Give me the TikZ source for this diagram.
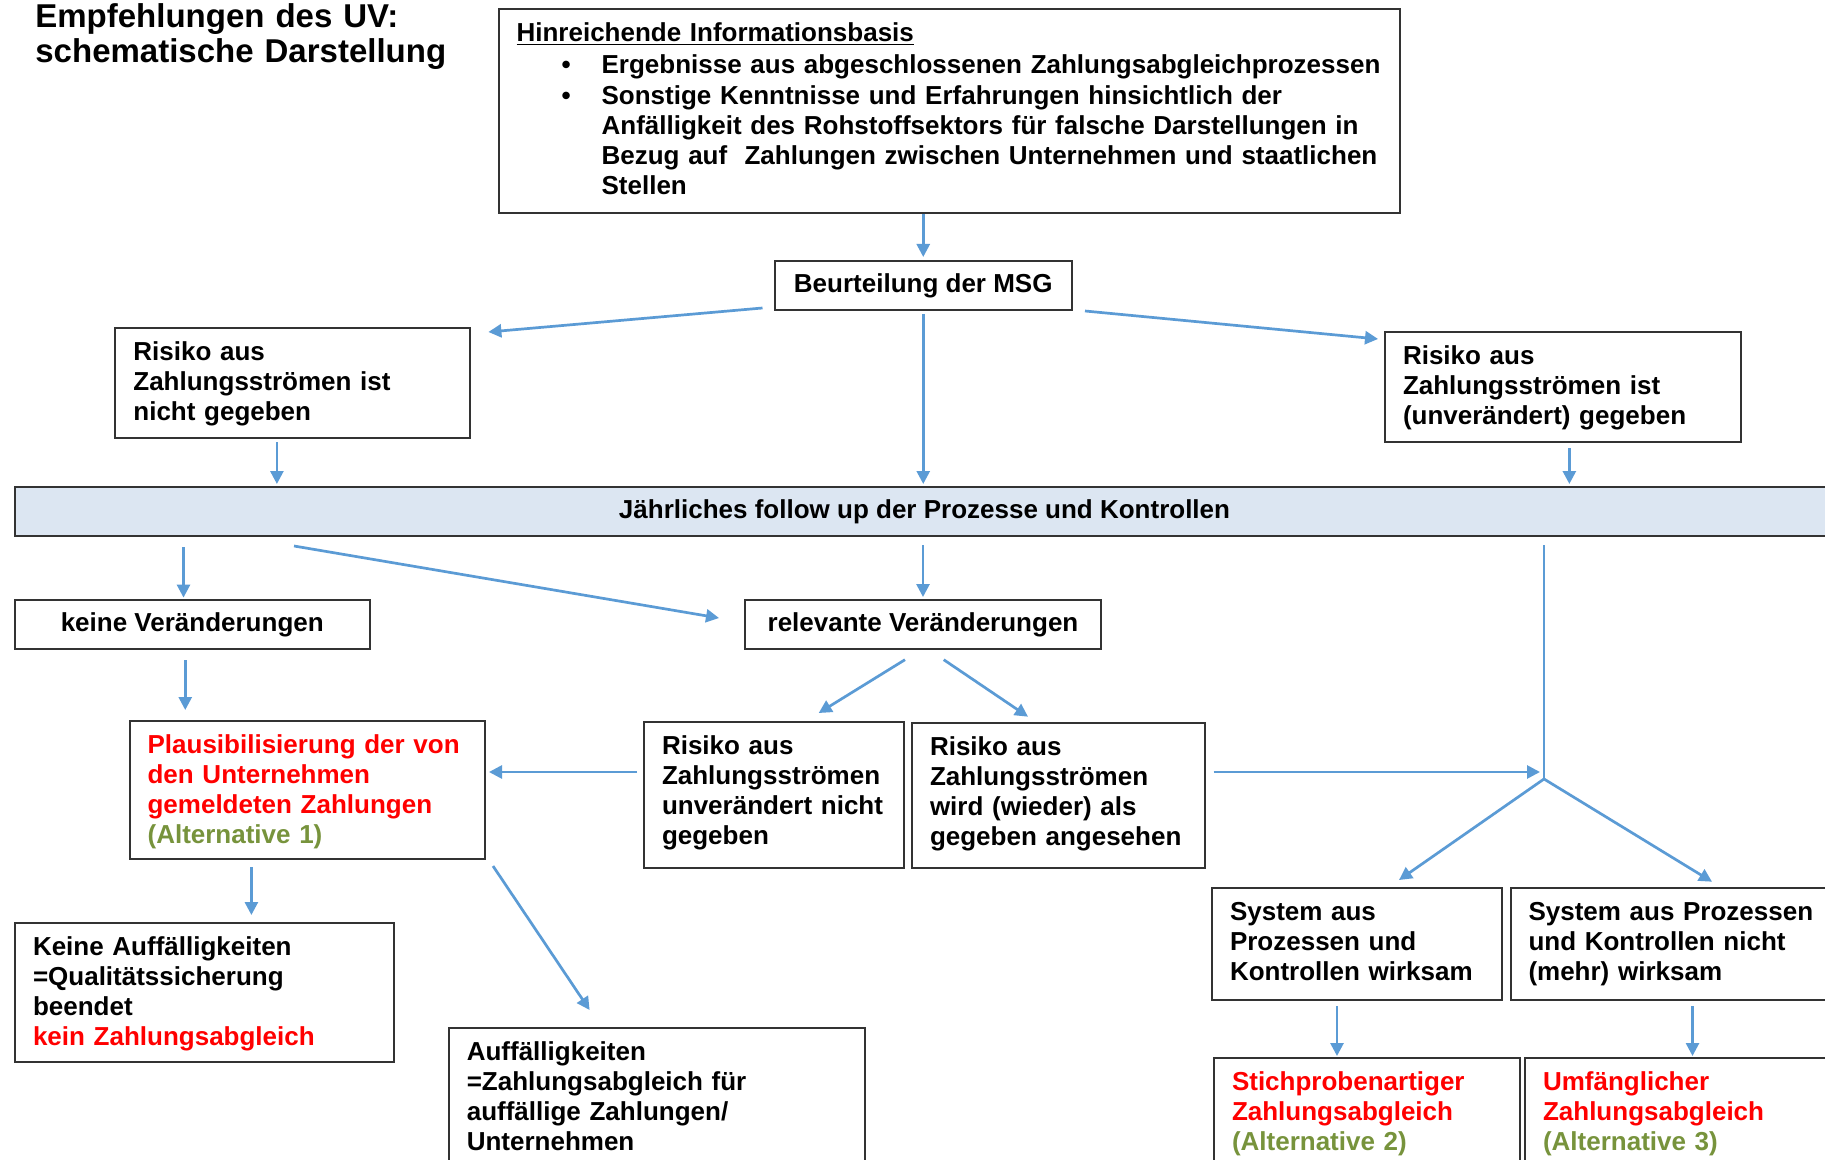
\documentclass[tikz,border=0pt]{standalone}
\usepackage{fontspec}
\setmainfont{Liberation Sans}
\usetikzlibrary{arrows.meta,calc}
\definecolor{arrowblue}{HTML}{5B9BD5}
\definecolor{barfill}{HTML}{DCE6F2}
\definecolor{altgreen}{HTML}{77933C}
\definecolor{hotred}{HTML}{FF0000}
\definecolor{boxline}{HTML}{333333}
\begin{document}
\begin{tikzpicture}[x=0.5pt,y=-0.5pt,
  tbox/.style={draw=boxline, line width=1pt, fill=white, anchor=north west, align=left,
    inner xsep=9pt, inner ysep=0pt, text height=16.25pt, font=\fontsize{13}{15}\selectfont\bfseries},
  cbox/.style={draw=boxline, line width=1pt, fill=white, anchor=north west, inner sep=0pt,
    font=\fontsize{13}{15}\selectfont\bfseries},
  arr/.style={draw=arrowblue, line width=1.35pt, -{Triangle[length=6.5pt,width=6.5pt]}},
  ln/.style={draw=arrowblue, line width=1.35pt}]
\useasboundingbox (0,0) rectangle (1825,1160);
\clip (0,0) rectangle (1825,1160);
\fill[white] (0,0) rectangle (1825,1160);

\node[anchor=base west, text width=215pt, align=left, inner sep=0pt,
  font=\fontsize{16.5}{17.5}\selectfont\bfseries] (title) at (35,28)
  {Empfehlungen des UV:\\schematische Darstellung};

\node[tbox, text width=432.7pt, text depth=85.75pt] (info) at (497.6,8)
 {\underline{Hinreichende Informationsbasis}\\[1pt]
  \hspace*{42.5pt}\llap{\textbullet\hspace{15.5pt}}\mbox{Ergebnisse aus abgeschlossenen Zahlungsabgleichprozessen}\\[0.6pt]
  \hspace*{42.5pt}\llap{\textbullet\hspace{15.5pt}}\mbox{Sonstige Kenntnisse und Erfahrungen hinsichtlich der}\\
  \hspace*{42.5pt}\mbox{Anfälligkeit des Rohstoffsektors für falsche Darstellungen in}\\
  \hspace*{42.5pt}\mbox{Bezug auf~ Zahlungen zwischen Unternehmen und staatlichen}\\
  \hspace*{42.5pt}Stellen};

\node[cbox, minimum width=148.75pt, minimum height=24.5pt] (beurt) at (773.5,260) {Beurteilung der MSG};

\node[tbox, text width=159.5pt, text depth=38.75pt] (risL) at (114.4,327)
 {Risiko aus\\Zahlungsströmen ist\\nicht gegeben};
\node[tbox, text width=159.75pt, text depth=38.75pt] (risR) at (1384,331)
 {Risiko aus\\Zahlungsströmen ist\\(unverändert) gegeben};

\node[cbox, fill=barfill, minimum width=909.5pt, minimum height=24.5pt] (bar) at (14,486)
 {Jährliches follow up der Prozesse und Kontrollen};

\node[cbox, minimum width=177.25pt, minimum height=24.5pt] (keine) at (14,599) {keine Veränderungen};
\node[cbox, minimum width=178pt, minimum height=24.5pt] (relev) at (744,599) {relevante Veränderungen};

\node[tbox, text width=159.7pt, text depth=52.75pt] (plaus) at (128.6,720)
 {\textcolor{hotred}{Plausibilisierung der von}\\\textcolor{hotred}{den Unternehmen}\\
  \textcolor{hotred}{gemeldeten Zahlungen}\\\textcolor{altgreen}{(Alternative 1)}};
\node[tbox, text width=112pt, text depth=56.75pt] (runv) at (643,721)
 {Risiko aus\\Zahlungsströmen\\unverändert nicht\\gegeben};
\node[tbox, text width=128.5pt, text depth=56.4pt] (rwird) at (911,721.7)
 {Risiko aus\\Zahlungsströmen\\wird (wieder) als\\gegeben angesehen};

\node[tbox, text width=171.5pt, text depth=53.25pt] (keinA) at (14,922)
 {Keine Auffälligkeiten\\=Qualitätssicherung\\beendet\\\textcolor{hotred}{kein Zahlungsabgleich}};
\node[tbox, text width=190pt, text depth=53.75pt] (auff) at (447.8,1027)
 {Auffälligkeiten\\=Zahlungsabgleich für\\auffällige Zahlungen/\\Unternehmen};

\node[tbox, text width=127pt, text depth=39.9pt] (sysW) at (1211,886.7)
 {System aus\\Prozessen und\\Kontrollen wirksam};
\node[tbox, text width=147pt, text depth=39.75pt] (sysN) at (1509.5,887)
 {System aus Prozessen\\und Kontrollen nicht\\(mehr) wirksam};

\node[tbox, text width=135pt, text depth=39.75pt] (stich) at (1213,1057)
 {\textcolor{hotred}{Stichprobenartiger}\\\textcolor{hotred}{Zahlungsabgleich}\\\textcolor{altgreen}{(Alternative 2)}};
\node[tbox, text width=142pt, text depth=39.75pt] (umf) at (1524,1057)
 {\textcolor{hotred}{Umfänglicher}\\\textcolor{hotred}{Zahlungsabgleich}\\\textcolor{altgreen}{(Alternative 3)}};

% connectors
\draw[arr, shorten >=1.5pt] (beurt.north |- info.south) -- (beurt.north);
\draw[arr] ($(beurt.south west)+(-11,-3)$) -- ($(risL.north east)+(17,5)$);
\draw[arr] ($(beurt.south east)+(12,0)$) -- ($(risR.north west)+(-6,8)$);
\draw[arr, shorten <=1.5pt, shorten >=1pt] (beurt.south) -- (beurt.south |- bar.north);

\coordinate (pRL) at ($(risL.south)+(-16,3)$);
\draw[arr, shorten >=1pt] (pRL) -- (pRL |- bar.north);
\coordinate (pRR) at ($(risR.south)+(6.6,5)$);
\draw[arr, shorten >=1pt] (pRR) -- (pRR |- bar.north);

\coordinate (pK) at ($(keine.north)+(-8.75,0)$);
\draw[arr, shorten <=5pt, shorten >=0.7pt] (pK |- bar.south) -- (pK);
\draw[arr] ($(bar.south west)+(280,9)$) -- ($(relev.north west)+(-25,19)$);
\draw[arr, shorten <=4pt, shorten >=1pt] (relev.north |- bar.south) -- (relev.north);

\coordinate (pKP) at ($(keine.south)+(-7,0)$);
\draw[arr, shorten <=5pt, shorten >=5pt] (pKP) -- (pKP |- plaus.north);

\draw[arr] ($(relev.south)+(-18,9.7)$) -- ($(runv.north)+(44.7,-8)$);
\draw[arr] ($(relev.south)+(20.7,9.7)$) -- ($(rwird.north)+(-30.5,-5)$);

\coordinate (pUP) at ($(runv.north west)+(-6,51)$);
\draw[arr, shorten >=1.5pt] (pUP) -- (pUP -| plaus.east);

\coordinate (pPK) at ($(plaus.south west)+(122.8,7)$);
\draw[arr, shorten >=3.5pt] (pPK) -- (pPK |- keinA.north);
\draw[arr] ($(plaus.south east)+(7,6)$) -- ($(auff.north west)+(141.8,-17)$);

\coordinate (J) at (1544,779);
\draw[ln] ($(J |- bar.south)+(0,8)$) -- (J);
\coordinate (pWJ) at ($(rwird.north east)+(7.5,50.3)$);
\draw[arr, shorten >=2pt] (pWJ) -- (pWJ -| J);
\draw[arr] (J) -- ($(sysW.north)+(42,-6.7)$);
\draw[arr] (J) -- ($(sysN.north west)+(202.5,-5.3)$);

\coordinate (pSW) at ($(sysW.south)+(-20,5)$);
\draw[arr, shorten >=0.5pt] (pSW) -- (pSW |- stich.north);
\coordinate (pSN) at ($(sysN.south west)+(183,5)$);
\draw[arr, shorten >=0.5pt] (pSN) -- (pSN |- umf.north);
\end{tikzpicture}
\end{document}
